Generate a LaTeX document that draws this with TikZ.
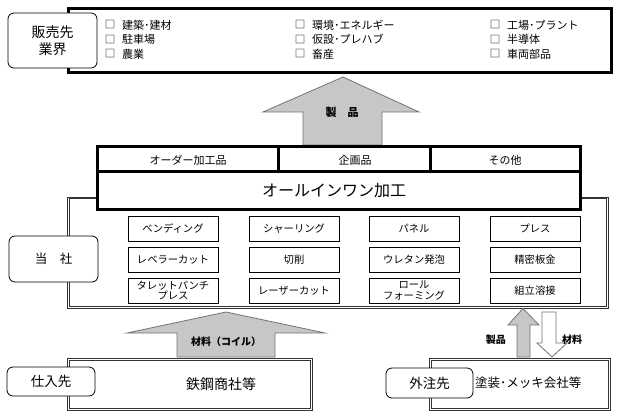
\documentclass[tikz,border=0pt]{standalone}
\usepackage{fontspec}
\setmainfont{Noto Sans CJK JP}
\begin{document}
\begin{tikzpicture}[x=1pt,y=-1pt,
  thickbox/.style={draw=black,line width=3pt,fill=white,inner sep=0pt},
  dblbox/.style={draw=black!80,line width=0.7pt,fill=white,inner sep=0pt},
  dblinner/.style={draw=black!80,line width=0.7pt},
  tagbox/.style={draw=black,line width=0.8pt,rounded corners=6pt,fill=white,align=center,inner sep=0pt},
  cell/.style={draw=black,line width=0.8pt,fill=white,minimum width=90pt,minimum height=25pt,inner sep=0pt,align=center,font=\fontsize{10.3}{10.8}\selectfont},
  item/.style={anchor=west,inner sep=0pt,font=\fontsize{11}{12}\selectfont},
  chk/.style={inner sep=0pt,font=\fontsize{10.5}{12}\selectfont},
  hdr/.style={inner sep=0pt,font=\fontsize{11}{12}\selectfont},
  blockarrow/.style={draw=black!55,line width=0.8pt,fill=black!22,line join=miter},
  hollowarrow/.style={draw=black!55,line width=0.8pt,fill=white},
  lbl/.style={inner sep=0pt,font=\bfseries\fontsize{10}{12}\selectfont}
]
\useasboundingbox (0,0) rectangle (619,417);

% ---------- top: market ----------
\node[thickbox,minimum width=543pt,minimum height=64pt] (market) at (339.5,40.5) {};
\node[tagbox,minimum width=89pt,minimum height=55pt,font=\fontsize{14}{17}\selectfont] (mkttag) at (52.5,40.5) {販売先\\業界};

\foreach \cx/\tx/\rows in {110/122/{0/建築･建材,1/駐車場,2/農業},
                           300/312/{0/環境･エネルギー,1/仮設･プレハブ,2/畜産},
                           495/507/{0/工場･プラント,1/半導体,2/車両部品}}{
  \foreach \r/\t in \rows {
    \node[chk] (c\cx-\r) at (\cx,25+14.5*\r) {□};
    \node[item] (t\cx-\r) at (\tx,25+14.5*\r) {\t};
  }
}

% ---------- product arrow ----------
\draw[blockarrow] (343,77) -- (419,112) -- (382,112) -- (382,145) -- (303,145) -- (303,112) -- (263,112) -- cycle;
\node[lbl,font=\bfseries\fontsize{11}{12}\selectfont] (prod) at (342,112) {製　品};

% ---------- company ----------
\node[dblbox,minimum width=541pt,minimum height=111pt] (company) at (337.5,252.5) {};
\draw[dblinner] ([shift={(2.2pt,-2.2pt)}]company.north west) rectangle ([shift={(-2.2pt,2.2pt)}]company.south east);

% header block
\node[thickbox,minimum width=483pt,minimum height=63pt] (header) at (338.5,178.5) {};
\draw[line width=3pt] (97,172) -- (580,172);
\draw[line width=3pt] (278,147) -- (278,172);
\draw[line width=3pt] (430,147) -- (430,172);
\node[hdr] (h1) at (188,160) {オーダー加工品};
\node[hdr] (h2) at (355,160) {企画品};
\node[hdr] (h3) at (505,160) {その他};
\node[font=\fontsize{16}{18}\selectfont,inner sep=0pt] (allin) at (334,190.5) {オールインワン加工};

% process cells
\node[cell] (p11) at (173,228.5) {ベンディング};
\node[cell] (p12) at (294,228.5) {シャーリング};
\node[cell] (p13) at (414,228.5) {パネル};
\node[cell] (p14) at (535,228.5) {プレス};
\node[cell] (p21) at (173,259.5) {レベラーカット};
\node[cell] (p22) at (294,259.5) {切削};
\node[cell] (p23) at (414,259.5) {ウレタン発泡};
\node[cell] (p24) at (535,259.5) {精密板金};
\node[cell] (p31) at (173,290.5) {タレットパンチ\\プレス};
\node[cell] (p32) at (294,290.5) {レーザーカット};
\node[cell] (p33) at (414,290.5) {ロール\\フォーミング};
\node[cell] (p34) at (535,290.5) {組立溶接};

\node[tagbox,minimum width=89pt,minimum height=46pt,font=\fontsize{12.5}{14}\selectfont] (comptag) at (53.5,259) {当　社};

% ---------- supplier ----------
\node[dblbox,minimum width=245pt,minimum height=52pt] (supplier) at (189.5,384) {};
\draw[dblinner] ([shift={(2.2pt,-2.2pt)}]supplier.north west) rectangle ([shift={(-2.2pt,2.2pt)}]supplier.south east);
\node[font=\fontsize{14}{16}\selectfont,inner sep=0pt] (suptext) at (221,384) {鉄鋼商社等};
\node[tagbox,minimum width=88pt,minimum height=29pt,font=\fontsize{13.5}{15}\selectfont] (suptag) at (51,381.5) {仕入先};

\draw[blockarrow] (226,312) -- (325,333) -- (275,333) -- (275,357) -- (177,357) -- (177,333) -- (127,333) -- cycle;
\node[lbl] (mat) at (226,342) {材料（コイル）};

% ---------- subcontractor ----------
\node[dblbox,minimum width=181pt,minimum height=52pt] (sub) at (519.5,384) {};
\draw[dblinner] ([shift={(2.2pt,-2.2pt)}]sub.north west) rectangle ([shift={(-2.2pt,2.2pt)}]sub.south east);
\node[font=\fontsize{12.5}{14}\selectfont,inner sep=0pt,anchor=west] (subtext) at (475,383) {塗装･メッキ会社等};
\node[tagbox,minimum width=87pt,minimum height=30pt,font=\fontsize{13.5}{15}\selectfont] (subtag) at (429.5,383) {外注先};

\draw[blockarrow] (523,308.5) -- (539,325) -- (530,325) -- (530,357) -- (517,357) -- (517,325) -- (508,325) -- cycle;
\draw[hollowarrow] (542,312) -- (556,312) -- (556,343) -- (567,343) -- (552,357) -- (537,343) -- (542,343) -- cycle;
\node[lbl,anchor=east] (prod2) at (506,340) {製品};
\node[lbl,anchor=west] (mat2) at (562,340) {材料};
\end{tikzpicture}
\end{document}
